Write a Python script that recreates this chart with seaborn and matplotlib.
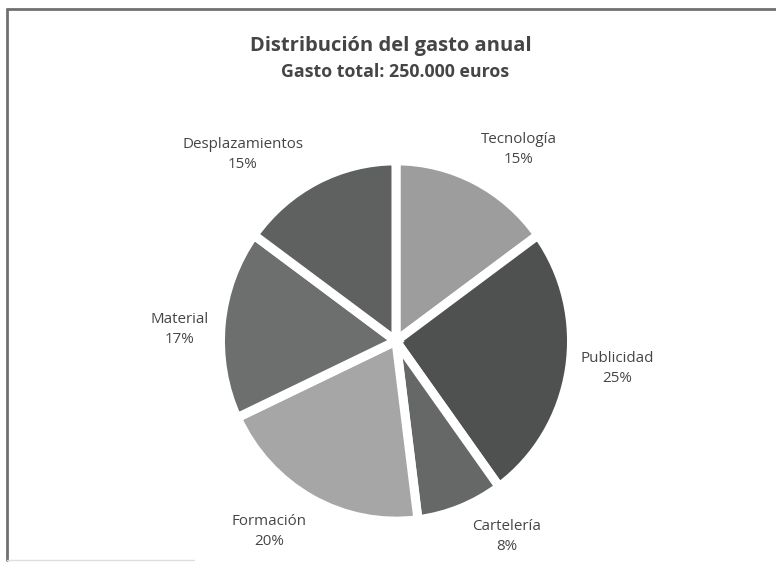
import matplotlib
matplotlib.use("Agg")
import matplotlib.pyplot as plt
import seaborn as sns
from matplotlib.lines import Line2D

sns.set_theme(style="white")
plt.rcParams['font.family'] = ['Open Sans', 'DejaVu Sans']

# datos del grafico
categorias = ['Tecnología', 'Publicidad', 'Cartelería', 'Formación', 'Material', 'Desplazamientos']
porcentajes = [15, 25, 8, 20, 17, 15]
colores = ['#9c9d9c', '#4f5150', '#666867', '#a5a6a5', '#6d6f6e', '#5f6160']

# posicion de cada etiqueta (coordenadas del eje, radio = 1)
pos_etiquetas = [(0.732, 1.113), (1.315, -0.162), (0.661, -1.136),
                 (-0.756, -1.107), (-1.286, 0.064), (-0.911, 1.084)]

color_texto = '#454545'

fig = plt.figure(figsize=(7.76, 5.64), dpi=100)
# el escaneo original esta un poco estirado en vertical
ax = fig.add_axes([0.2397, 0.0133, 0.5412, 0.7642])

wedges, textos = ax.pie(
    porcentajes,
    colors=colores,
    startangle=90,
    counterclock=False,
    radius=1.045,
    labels=[f"{c}\n{p}%" for c, p in zip(categorias, porcentajes)],
    wedgeprops=dict(edgecolor='white', linewidth=6.5),
    textprops=dict(color=color_texto, fontsize=10.9, linespacing=1.45),
)
for t, (x, y) in zip(textos, pos_etiquetas):
    t.set_position((x, y))
    t.set_ha('center')
    t.set_va('center')

ax.set_xlim(-1.25, 1.25)
ax.set_ylim(-1.25, 1.25)
ax.set_aspect('auto')
ax.axis('off')

fig.text(0.504, 0.918, 'Distribución del gasto anual', ha='center', va='center',
         fontsize=14.5, fontweight='bold', color=color_texto)
fig.text(0.509, 0.872, 'Gasto total: 250.000 euros', ha='center', va='center',
         fontsize=12.8, fontweight='bold', color=color_texto)

# marco escaneado (solo arriba e izquierda)
fig.add_artist(Line2D([0.009, 1.0], [0.984, 0.984], transform=fig.transFigure,
                      color='#707070', linewidth=2))
fig.add_artist(Line2D([0.009, 0.009], [0.984, 0.007], transform=fig.transFigure,
                      color='#707070', linewidth=2))
fig.add_artist(Line2D([0.009, 0.25], [0.007, 0.007], transform=fig.transFigure,
                      color='#dddddd', linewidth=1))

fig.savefig('out.png', dpi=100, facecolor='white')
